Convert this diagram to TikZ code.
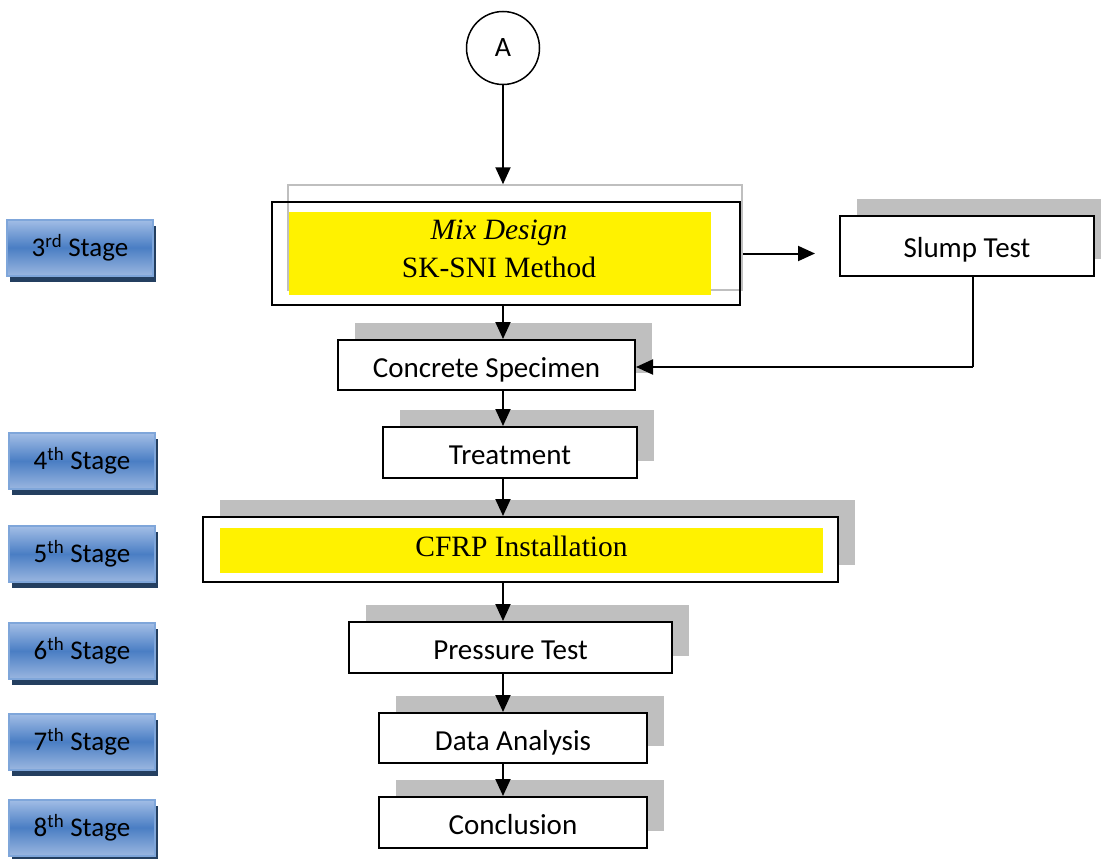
\documentclass[tikz,border=0pt]{standalone}
\usepackage{fontspec}
\setmainfont{Carlito}
\newfontfamily\timesfont{Liberation Serif}
\usepackage{xcolor}
\usepackage{tikz}
\usetikzlibrary{arrows.meta,shadows}
\definecolor{stagetop}{HTML}{A3BEE6}
\definecolor{stagemid}{HTML}{4A7EC4}
\definecolor{stagebot}{HTML}{9AB6E0}
\definecolor{stageedge}{HTML}{7FA6DA}
\definecolor{stageshade}{HTML}{243F60}
\definecolor{boxshade}{HTML}{BFBFBF}

\begin{document}
\begin{tikzpicture}[x=1pt,y=-1pt,
    stagebtn/.style={rectangle,inner sep=0pt,minimum width=146pt,minimum height=56pt,
        draw=stageedge,line width=2pt,top color=stagetop,bottom color=stagebot,middle color=stagemid,
        general shadow={fill=stageshade,shadow xshift=3pt,shadow yshift=-6pt},
        font=\fontsize{27}{30}\selectfont},
    stepbox/.style={rectangle,inner sep=0pt,draw=black,line width=2pt,fill=white,
        general shadow={fill=boxshade,shadow xshift=17pt,shadow yshift=17pt},
        font=\fontsize{29}{30}\selectfont,text height=24pt,text depth=0pt},
    hilite/.style={rectangle,inner sep=0pt,fill=yellow},
    serif/.style={inner sep=0pt,font=\timesfont\fontsize{29.5}{38}\selectfont},
    flow/.style={line width=2pt,-{Triangle[length=17pt,width=15pt]}}]
    \path[use as bounding box,clip] (0,0) rectangle (1101,859);

    \node[circle,draw,line width=1.5pt,minimum size=73pt,font=\fontsize{28}{30}\selectfont] (A) at (503,48) {A};

    \node[rectangle,draw=boxshade,line width=1.5pt,minimum width=454pt,minimum height=105pt] (mixshade) at (515,237.5) {};
    \node[rectangle,draw=black,line width=2pt,minimum width=468pt,minimum height=103pt] (mix) at (506,253.5) {};
    \node[hilite,minimum width=422pt,minimum height=83pt] (mixfill) at (500,253.5) {};
    \node[serif,align=center] (mixtext) at (499,249) {\textit{Mix Design}\\SK-SNI Method};

    \node[stepbox,minimum width=254pt,minimum height=60pt] (slump) at (967,245.5) {Slump Test};
    \node[stepbox,minimum width=297pt,minimum height=50pt] (concrete) at (486.5,365) {Concrete Specimen};
    \node[stepbox,minimum width=254pt,minimum height=51pt] (treatment) at (510,452.5) {Treatment};
    \node[stepbox,minimum width=635pt,minimum height=65pt] (cfrp) at (520.5,549.5) {};
    \node[hilite,minimum width=603pt,minimum height=45pt] (cfrpfill) at (521.5,550.5) {};
    \node[serif] (cfrptext) at (521.5,546) {CFRP Installation};
    \node[stepbox,minimum width=323pt,minimum height=51pt] (pressure) at (510.5,647.5) {Pressure Test};
    \node[stepbox,minimum width=268pt,minimum height=50pt] (data) at (513,738) {Data Analysis};
    \node[stepbox,minimum width=268pt,minimum height=51pt] (conclusion) at (513,822.5) {Conclusion};

    \node[stagebtn] (s3) at (80,247.5) {3\textsuperscript{rd} Stage};
    \node[stagebtn] (s4) at (82,461) {4\textsuperscript{th} Stage};
    \node[stagebtn] (s5) at (82,554) {5\textsuperscript{th} Stage};
    \node[stagebtn] (s6) at (82,651) {6\textsuperscript{th} Stage};
    \node[stagebtn] (s7) at (82,741.5) {7\textsuperscript{th} Stage};
    \node[stagebtn] (s8) at (82,827.5) {8\textsuperscript{th} Stage};

    \draw[flow] (A.south) -- (A.south |- mixshade.north);
    \draw[flow,shorten >=24pt] (mixshade.east |- mix.center) -- (slump.west |- mix.center);
    \draw[line width=2pt] ([xshift=6pt]slump.south) coordinate (turn) -- ([yshift=-2pt]turn |- concrete.east);
    \draw[flow] ([yshift=-2pt]turn |- concrete.east) -- ([yshift=-2pt]concrete.east);
    \draw[flow] (A.south |- mix.south) -- (A.south |- concrete.north);
    \draw[flow] (A.south |- concrete.south) -- (A.south |- treatment.north);
    \draw[flow] (A.south |- treatment.south) -- (A.south |- cfrp.north);
    \draw[flow] (A.south |- cfrp.south) -- (A.south |- pressure.north);
    \draw[flow] (A.south |- pressure.south) -- (A.south |- data.north);
    \draw[flow] (A.south |- data.south) -- (A.south |- conclusion.north);
\end{tikzpicture}
\end{document}
